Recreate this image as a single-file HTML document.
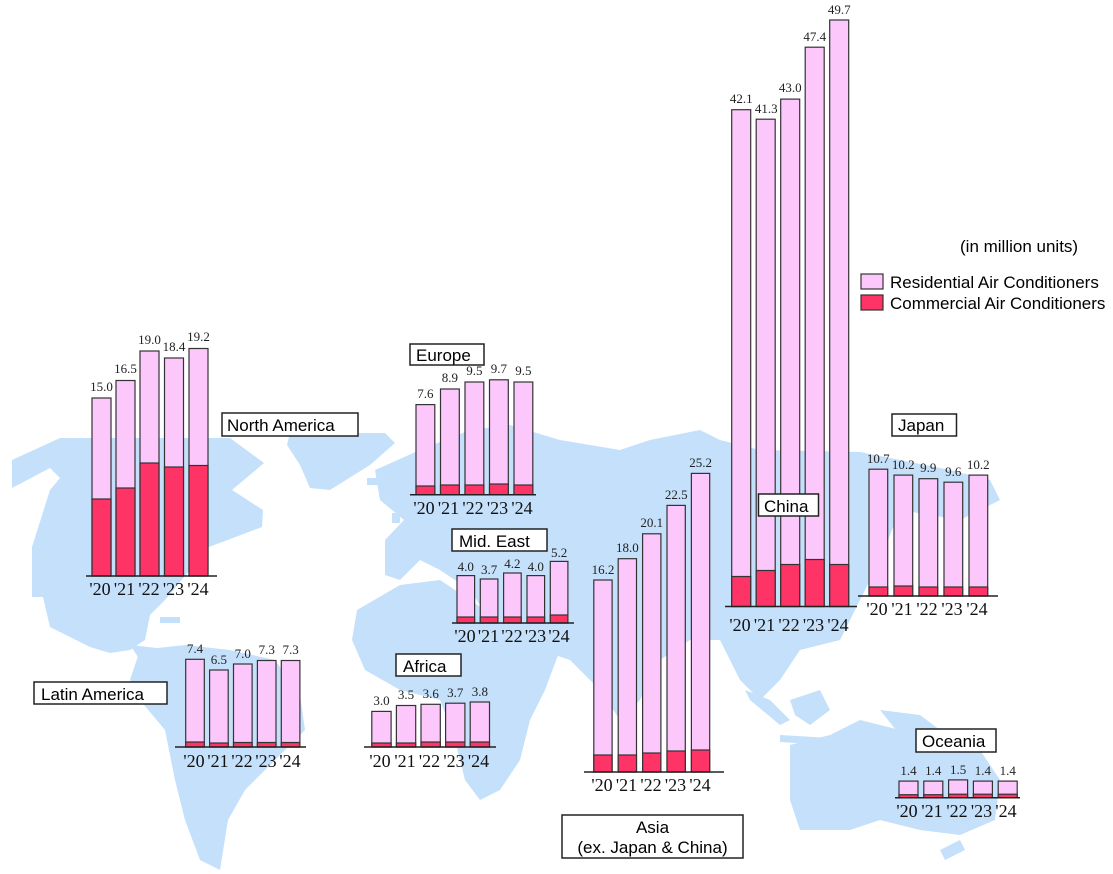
<!DOCTYPE html>
<html><head><meta charset="utf-8"><style>
body{margin:0;background:#fff;}
svg{display:block}
.r{fill:#fcc8fc;stroke:#333;stroke-width:1.2}
.c{fill:#fe3366;stroke:#333;stroke-width:1.2}
.v{font-family:"Liberation Serif",serif;font-size:13px;fill:#222;text-anchor:middle}
.t{font-family:"Liberation Serif",serif;font-size:18px;fill:#111;text-anchor:middle}
.ax{stroke:#222;stroke-width:1.5}
.b{fill:#fff;stroke:#222;stroke-width:1.5}
.l{font-family:"Liberation Sans",sans-serif;font-size:17px;fill:#000}
.m{fill:#c4e0fa}
</style></head><body>
<svg width="1113" height="874" viewBox="0 0 1113 874">
<g class="m">
<path d="M12,460 L60,438 L230,438 L264,463 L232,490 L263,510 L262,527 L209,547 L190,570 L165,600 L150,615 L145,640 L130,650 L110,653 L90,647 L50,627 L43,597 L32,597 L32,547 L50,490 L60,478 L50,468 L12,488 Z"/>
<path d="M290,433 L385,433 L395,443 L370,465 L330,490 L310,488 L300,465 L287,445 Z"/>
<rect x="367" y="478" width="20" height="7"/>
<path d="M130,645 L175,650 L190,665 L170,680 L140,660 Z"/>
<path d="M140,650 L185,645 L230,650 L275,660 L300,695 L305,730 L275,760 L245,790 L228,820 L220,870 L200,860 L185,820 L175,780 L165,730 L140,700 L130,680 Z"/>
<path d="M375,470 L420,450 L470,430 L510,425 L560,440 L620,450 L650,440 L700,430 L720,440 L760,450 L860,452 L900,460 L950,470 L990,480 L1000,500 L960,520 L900,510 L880,560 L860,600 L840,640 L800,650 L780,680 L760,700 L740,680 L720,640 L690,640 L660,660 L640,700 L620,720 L600,690 L570,660 L540,650 L520,640 L490,620 L470,590 L440,570 L420,560 L400,580 L385,575 L385,540 L404,520 L380,500 Z"/>
<path d="M357,610 L400,585 L440,580 L470,600 L500,620 L530,640 L560,650 L545,690 L530,720 L520,760 L500,790 L480,800 L465,780 L455,740 L440,700 L400,690 L365,670 L352,640 Z"/>
<path d="M790,745 L830,735 L860,720 L900,730 L940,735 L980,750 L1000,780 L995,820 L960,835 L920,830 L880,820 L850,830 L800,830 L790,800 Z"/>
<path d="M745,690 L770,700 L790,720 L780,725 L750,700 Z"/>
<path d="M790,700 L820,690 L830,710 L810,725 L795,715 Z"/>
<path d="M880,710 L920,715 L940,730 L900,735 Z"/>
<path d="M780,735 L830,738 L830,745 L780,742 Z"/>
<path d="M850,530 L866,522 L870,540 L860,556 L848,552 Z"/>
<path d="M940,850 L960,840 L965,850 L945,860 Z"/>
<rect x="392" y="513" width="8" height="10"/><rect x="405" y="508" width="12" height="18"/>
<rect x="130" y="608" width="20" height="6"/><rect x="160" y="617" width="20" height="6"/>
</g>

<!-- Legend -->
<text class="l" x="960" y="252" font-size="16">(in million units)</text>
<rect class="r" x="861" y="274" width="22" height="15"/>
<rect class="c" x="861" y="295" width="22" height="15"/>
<text class="l" x="890" y="288" font-size="15.5">Residential Air Conditioners</text>
<text class="l" x="890" y="309" font-size="15.5">Commercial Air Conditioners</text>

<!-- North America -->
<g>
<rect class="r" x="92" y="398" width="19" height="178"/><rect class="c" x="92" y="499" width="19" height="77"/>
<rect class="r" x="116" y="380.5" width="19" height="195.5"/><rect class="c" x="116" y="488" width="19" height="88"/>
<rect class="r" x="140" y="351" width="19" height="225"/><rect class="c" x="140" y="463" width="19" height="113"/>
<rect class="r" x="164.5" y="358" width="19" height="218"/><rect class="c" x="164.5" y="467" width="19" height="109"/>
<rect class="r" x="189" y="348.5" width="19" height="227.5"/><rect class="c" x="189" y="465.5" width="19" height="110.5"/>
<line class="ax" x1="86" y1="576" x2="217" y2="576"/>
<text class="v" x="101.5" y="391">15.0</text><text class="v" x="125.5" y="373">16.5</text><text class="v" x="149.5" y="344">19.0</text><text class="v" x="174" y="351">18.4</text><text class="v" x="198.5" y="341">19.2</text>
<text class="t" x="100" y="595">'20</text><text class="t" x="124.5" y="595">'21</text><text class="t" x="149" y="595">'22</text><text class="t" x="173.5" y="595">'23</text><text class="t" x="198" y="595">'24</text>
<rect class="b" x="222" y="413" width="136" height="23"/><text class="l" x="227" y="431" font-size="17.5">North America</text>
</g>

<!-- Europe -->
<g>
<rect class="r" x="416" y="404.6" width="18.8" height="90"/><rect class="c" x="416" y="486" width="18.8" height="8.7"/>
<rect class="r" x="440.5" y="389" width="18.8" height="105.7"/><rect class="c" x="440.5" y="485" width="18.8" height="9.7"/>
<rect class="r" x="465" y="382" width="18.8" height="112.7"/><rect class="c" x="465" y="485" width="18.8" height="9.7"/>
<rect class="r" x="489.5" y="379.8" width="18.8" height="114.9"/><rect class="c" x="489.5" y="484" width="18.8" height="10.7"/>
<rect class="r" x="514" y="382" width="18.8" height="112.7"/><rect class="c" x="514" y="485" width="18.8" height="9.7"/>
<line class="ax" x1="410" y1="494.7" x2="536" y2="494.7"/>
<text class="v" x="425.4" y="398">7.6</text><text class="v" x="449.9" y="382">8.9</text><text class="v" x="474.4" y="375">9.5</text><text class="v" x="498.9" y="373">9.7</text><text class="v" x="523.4" y="375">9.5</text>
<text class="t" x="424" y="514">'20</text><text class="t" x="448.5" y="514">'21</text><text class="t" x="473" y="514">'22</text><text class="t" x="497.5" y="514">'23</text><text class="t" x="522" y="514">'24</text>
<rect class="b" x="410" y="344" width="74" height="21"/><text class="l" x="416" y="361">Europe</text>
</g>

<!-- Mid East -->
<g>
<rect class="r" x="457" y="575.6" width="17.6" height="47.4"/><rect class="c" x="457" y="617" width="17.6" height="6"/>
<rect class="r" x="480.3" y="579" width="17.6" height="44"/><rect class="c" x="480.3" y="617" width="17.6" height="6"/>
<rect class="r" x="503.6" y="573" width="17.6" height="50"/><rect class="c" x="503.6" y="617" width="17.6" height="6"/>
<rect class="r" x="527" y="575.6" width="17.6" height="47.4"/><rect class="c" x="527" y="617" width="17.6" height="6"/>
<rect class="r" x="550.3" y="561.4" width="17.6" height="61.6"/><rect class="c" x="550.3" y="615" width="17.6" height="8"/>
<line class="ax" x1="452" y1="623" x2="574" y2="623"/>
<text class="v" x="465.8" y="571">4.0</text><text class="v" x="489.1" y="574">3.7</text><text class="v" x="512.4" y="568">4.2</text><text class="v" x="535.8" y="571">4.0</text><text class="v" x="559.1" y="557">5.2</text>
<text class="t" x="465" y="642">'20</text><text class="t" x="488.5" y="642">'21</text><text class="t" x="512" y="642">'22</text><text class="t" x="535.5" y="642">'23</text><text class="t" x="559" y="642">'24</text>
<rect class="b" x="452" y="529" width="95" height="22"/><text class="l" x="459" y="547">Mid. East</text>
</g>

<!-- Asia -->
<g>
<rect class="r" x="593.8" y="580" width="18.3" height="192"/><rect class="c" x="593.8" y="755" width="18.3" height="17"/>
<rect class="r" x="618.2" y="558.7" width="18.3" height="213.3"/><rect class="c" x="618.2" y="755" width="18.3" height="17"/>
<rect class="r" x="642.6" y="533.8" width="18.3" height="238.2"/><rect class="c" x="642.6" y="753" width="18.3" height="19"/>
<rect class="r" x="667" y="505.4" width="18.3" height="266.6"/><rect class="c" x="667" y="751" width="18.3" height="21"/>
<rect class="r" x="691.4" y="473.4" width="18.3" height="298.6"/><rect class="c" x="691.4" y="750" width="18.3" height="22"/>
<line class="ax" x1="584" y1="772" x2="724" y2="772"/>
<text class="v" x="603" y="574">16.2</text><text class="v" x="627.4" y="552">18.0</text><text class="v" x="651.8" y="527">20.1</text><text class="v" x="676.2" y="499">22.5</text><text class="v" x="700.6" y="467">25.2</text>
<text class="t" x="602" y="791">'20</text><text class="t" x="626.5" y="791">'21</text><text class="t" x="651" y="791">'22</text><text class="t" x="675.5" y="791">'23</text><text class="t" x="700" y="791">'24</text>
<rect class="b" x="562" y="815" width="181" height="43"/>
<text class="l" x="652.5" y="833" text-anchor="middle">Asia</text>
<text class="l" x="652.5" y="853" text-anchor="middle">(ex. Japan &amp; China)</text>
</g>

<!-- China -->
<g>
<rect class="r" x="731.7" y="109.7" width="19" height="496.8"/><rect class="c" x="731.7" y="576.5" width="19" height="30"/>
<rect class="r" x="756.2" y="119.2" width="19" height="487.3"/><rect class="c" x="756.2" y="570.5" width="19" height="36"/>
<rect class="r" x="780.7" y="99.1" width="19" height="507.4"/><rect class="c" x="780.7" y="564.5" width="19" height="42"/>
<rect class="r" x="805.2" y="47.2" width="19" height="559.3"/><rect class="c" x="805.2" y="559.5" width="19" height="47"/>
<rect class="r" x="829.7" y="20" width="19" height="586.5"/><rect class="c" x="829.7" y="564.5" width="19" height="42"/>
<line class="ax" x1="725" y1="606.5" x2="857" y2="606.5"/>
<text class="v" x="741.2" y="103">42.1</text><text class="v" x="766.2" y="113">41.3</text><text class="v" x="790.2" y="92">43.0</text><text class="v" x="814.7" y="41">47.4</text><text class="v" x="839.2" y="14">49.7</text>
<text class="t" x="740" y="631">'20</text><text class="t" x="764.5" y="631">'21</text><text class="t" x="789" y="631">'22</text><text class="t" x="813.5" y="631">'23</text><text class="t" x="838" y="631">'24</text>
<rect class="b" x="758.5" y="494" width="60" height="22"/><text class="l" x="764" y="512">China</text>
</g>

<!-- Japan -->
<g>
<rect class="r" x="869" y="469.2" width="18.7" height="126.8"/><rect class="c" x="869" y="587" width="18.7" height="9"/>
<rect class="r" x="894" y="475.1" width="18.7" height="120.9"/><rect class="c" x="894" y="586" width="18.7" height="10"/>
<rect class="r" x="919" y="478.7" width="18.7" height="117.3"/><rect class="c" x="919" y="587" width="18.7" height="9"/>
<rect class="r" x="944" y="482.2" width="18.7" height="113.8"/><rect class="c" x="944" y="587" width="18.7" height="9"/>
<rect class="r" x="969" y="475.1" width="18.7" height="120.9"/><rect class="c" x="969" y="587" width="18.7" height="9"/>
<line class="ax" x1="858" y1="596" x2="998" y2="596"/>
<text class="v" x="878.3" y="463">10.7</text><text class="v" x="903.3" y="469">10.2</text><text class="v" x="928.3" y="472">9.9</text><text class="v" x="953.3" y="476">9.6</text><text class="v" x="978.3" y="469">10.2</text>
<text class="t" x="877" y="615">'20</text><text class="t" x="902" y="615">'21</text><text class="t" x="927" y="615">'22</text><text class="t" x="952" y="615">'23</text><text class="t" x="977" y="615">'24</text>
<rect class="b" x="892" y="414" width="64.5" height="22"/><text class="l" x="898" y="431">Japan</text>
</g>

<!-- Oceania -->
<g>
<rect class="r" x="899" y="781.1" width="19" height="16.6"/><rect class="c" x="899" y="794.7" width="19" height="3"/>
<rect class="r" x="923.8" y="781.1" width="19" height="16.6"/><rect class="c" x="923.8" y="794.7" width="19" height="3"/>
<rect class="r" x="948.6" y="779.9" width="19" height="17.8"/><rect class="c" x="948.6" y="794.2" width="19" height="3.5"/>
<rect class="r" x="973.4" y="781.1" width="19" height="16.6"/><rect class="c" x="973.4" y="794.2" width="19" height="3.5"/>
<rect class="r" x="998.2" y="781.1" width="19" height="16.6"/><rect class="c" x="998.2" y="794.2" width="19" height="3.5"/>
<line class="ax" x1="895" y1="797.7" x2="1020" y2="797.7"/>
<text class="v" x="908.5" y="775">1.4</text><text class="v" x="933.3" y="775">1.4</text><text class="v" x="958.1" y="774">1.5</text><text class="v" x="982.9" y="775">1.4</text><text class="v" x="1007.7" y="775">1.4</text>
<text class="t" x="907" y="817">'20</text><text class="t" x="932" y="817">'21</text><text class="t" x="957" y="817">'22</text><text class="t" x="981.5" y="817">'23</text><text class="t" x="1006" y="817">'24</text>
<rect class="b" x="916" y="729" width="80" height="23"/><text class="l" x="922" y="747">Oceania</text>
</g>

<!-- Latin America -->
<g>
<rect class="r" x="185.7" y="659.3" width="18.6" height="87.7"/><rect class="c" x="185.7" y="742" width="18.6" height="5"/>
<rect class="r" x="209.6" y="670" width="18.6" height="77"/><rect class="c" x="209.6" y="743" width="18.6" height="4"/>
<rect class="r" x="233.5" y="664" width="18.6" height="83"/><rect class="c" x="233.5" y="742.5" width="18.6" height="4.5"/>
<rect class="r" x="257.4" y="660.5" width="18.6" height="86.5"/><rect class="c" x="257.4" y="742.5" width="18.6" height="4.5"/>
<rect class="r" x="281.3" y="660.5" width="18.6" height="86.5"/><rect class="c" x="281.3" y="742.5" width="18.6" height="4.5"/>
<line class="ax" x1="175" y1="747" x2="306" y2="747"/>
<text class="v" x="195" y="653">7.4</text><text class="v" x="218.9" y="664">6.5</text><text class="v" x="242.8" y="658">7.0</text><text class="v" x="266.7" y="654">7.3</text><text class="v" x="290.6" y="654">7.3</text>
<text class="t" x="194" y="767">'20</text><text class="t" x="218" y="767">'21</text><text class="t" x="242" y="767">'22</text><text class="t" x="266" y="767">'23</text><text class="t" x="290" y="767">'24</text>
<rect class="b" x="34" y="682" width="133" height="22"/><text class="l" x="41" y="700" font-size="17.5">Latin America</text>
</g>

<!-- Africa -->
<g>
<rect class="r" x="371.8" y="711.4" width="19.3" height="35.6"/><rect class="c" x="371.8" y="743" width="19.3" height="4"/>
<rect class="r" x="396.4" y="705.5" width="19.3" height="41.5"/><rect class="c" x="396.4" y="743" width="19.3" height="4"/>
<rect class="r" x="421" y="704.3" width="19.3" height="42.7"/><rect class="c" x="421" y="742" width="19.3" height="5"/>
<rect class="r" x="445.6" y="703.2" width="19.3" height="43.8"/><rect class="c" x="445.6" y="742" width="19.3" height="5"/>
<rect class="r" x="470.2" y="702" width="19.3" height="45"/><rect class="c" x="470.2" y="742" width="19.3" height="5"/>
<line class="ax" x1="364" y1="747" x2="496" y2="747"/>
<text class="v" x="381.5" y="705">3.0</text><text class="v" x="406" y="699">3.5</text><text class="v" x="430.7" y="698">3.6</text><text class="v" x="455.3" y="697">3.7</text><text class="v" x="479.9" y="696">3.8</text>
<text class="t" x="380" y="767">'20</text><text class="t" x="405" y="767">'21</text><text class="t" x="429.5" y="767">'22</text><text class="t" x="454" y="767">'23</text><text class="t" x="478.5" y="767">'24</text>
<rect class="b" x="396" y="654" width="65" height="22"/><text class="l" x="403" y="672">Africa</text>
</g>
</svg>
</body></html>
